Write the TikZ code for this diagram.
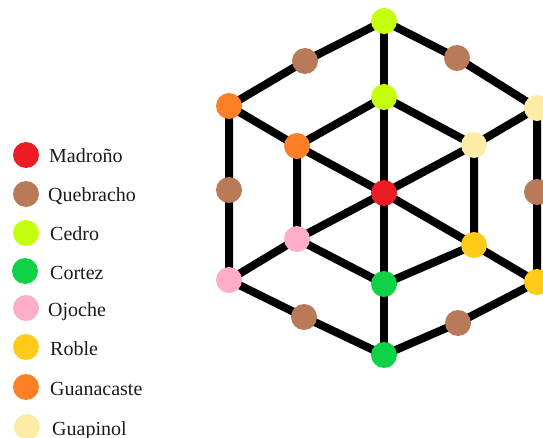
\documentclass[tikz,border=0pt]{standalone}
\usepackage{fontspec}
\setmainfont{Liberation Serif}
\usetikzlibrary{backgrounds}
\definecolor{cMadrono}{HTML}{ED1C24}
\definecolor{cQuebracho}{HTML}{B97A57}
\definecolor{cCedro}{HTML}{C4FF0E}
\definecolor{cCortez}{HTML}{0ED145}
\definecolor{cOjoche}{HTML}{FFAEC9}
\definecolor{cRoble}{HTML}{FFCA18}
\definecolor{cGuanacaste}{HTML}{FF7F27}
\definecolor{cGuapinol}{HTML}{FDECA6}
\definecolor{cText}{HTML}{1A1A1A}
\begin{document}
\begin{tikzpicture}[x=1pt,y=-1pt,
  dot/.style={circle,inner sep=0pt,minimum size=26pt,fill=#1},
  edge/.style={line width=8pt,black},
  lbl/.style={anchor=base west,inner sep=0pt,text=cText,font=\fontsize{20}{24}\selectfont}]
\useasboundingbox (0,0) rectangle (543,438);
% legend
\node[dot=cMadrono] (l1) at (26,155) {};
\node[lbl] (t1) at (49,163) {Madroño};
\node[dot=cQuebracho] (l2) at (26,194) {};
\node[lbl] (t2) at (48,202) {Quebracho};
\node[dot=cCedro] (l3) at (26,233) {};
\node[lbl] (t3) at (50,241) {Cedro};
\node[dot=cCortez] (l4) at (25,271) {};
\node[lbl] (t4) at (50,279) {Cortez};
\node[dot=cOjoche] (l5) at (26,308) {};
\node[lbl] (t5) at (48,316) {Ojoche};
\node[dot=cRoble] (l6) at (26,347) {};
\node[lbl] (t6) at (50,355) {Roble};
\node[dot=cGuanacaste] (l7) at (26,387) {};
\node[lbl] (t7) at (50,395) {Guanacaste};
\node[dot=cGuapinol] (l8) at (27,427) {};
\node[lbl] (t8) at (52,435) {Guapinol};
% graph nodes
\node[dot=cMadrono] (c) at (384,193) {};
\node[dot=cCedro] (top) at (384,21) {};
\node[dot=cCedro] (ci) at (384,97) {};
\node[dot=cCortez] (gi) at (384,284) {};
\node[dot=cCortez] (bot) at (384,355) {};
\node[dot=cGuanacaste] (oo) at (229,106) {};
\node[dot=cGuanacaste] (oi) at (297,146) {};
\node[dot=cGuapinol] (yo) at (537,108) {};
\node[dot=cGuapinol] (yi) at (474,145) {};
\node[dot=cOjoche] (po) at (229,280) {};
\node[dot=cOjoche] (pi) at (297,239) {};
\node[dot=cRoble] (ro) at (537,282) {};
\node[dot=cRoble] (ri) at (474,245) {};
\node[dot=cQuebracho] (q1) at (305,61) {};
\node[dot=cQuebracho] (q2) at (457,58) {};
\node[dot=cQuebracho] (q3) at (229,190) {};
\node[dot=cQuebracho] (q4) at (537,192) {};
\node[dot=cQuebracho] (q5) at (304,317) {};
\node[dot=cQuebracho] (q6) at (458,323) {};
\begin{scope}[on background layer]
\draw[edge] (top.center) -- (q1.center) -- (oo.center) -- (q3.center) -- (po.center) -- (q5.center) -- (bot.center) -- (q6.center) -- (ro.center) -- (q4.center) -- (yo.center) -- (q2.center) -- (top.center);
\draw[edge] (top.center) -- (ci.center) -- (c.center) -- (gi.center) -- (bot.center);
\draw[edge] (oo.center) -- (oi.center) -- (c.center) -- (ri.center) -- (ro.center);
\draw[edge] (yo.center) -- (yi.center) -- (c.center) -- (pi.center) -- (po.center);
\draw[edge] (ci.center) -- (oi.center) -- (pi.center) -- (gi.center) -- (ri.center) -- (yi.center) -- (ci.center);
\end{scope}
\end{tikzpicture}
\end{document}
